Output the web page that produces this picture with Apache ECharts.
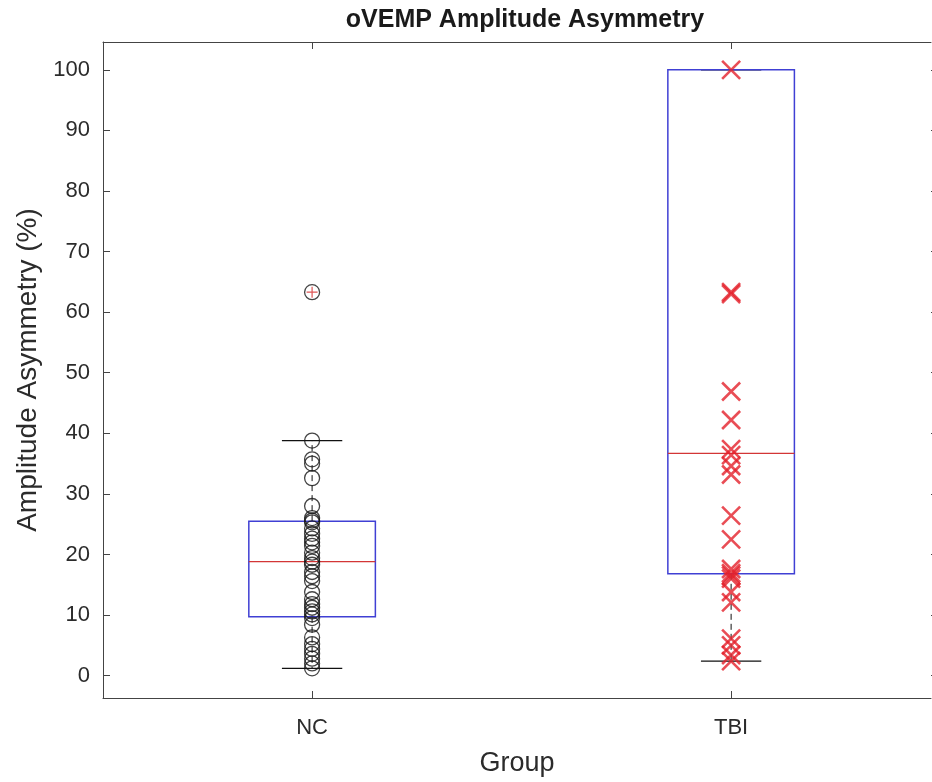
<!DOCTYPE html>
<html>
<head>
<meta charset="utf-8">
<script src="https://cdn.jsdelivr.net/npm/echarts@6/dist/echarts.min.js"></script>
<style>
html,body{margin:0;padding:0;background:#fff;}
#chart{width:932px;height:782px;}
</style>
</head>
<body>
<div id="chart"></div>
<script>
// ---- data ----
const categories = ['NC', 'TBI'];
const categoryPos = [1, 2];
const yTicks = [0, 10, 20, 30, 40, 50, 60, 70, 80, 90, 100];

const ncValues = [38.8, 35.7, 35.0, 32.6, 28.0, 26.0, 25.6, 25.3, 24.3, 23.4, 22.6, 22.0, 21.4,
  20.3, 19.4, 18.8, 18.3, 17.1, 16.4, 15.6, 13.8, 12.6, 11.8, 11.2, 10.6, 10.1, 9.5, 8.4,
  6.3, 5.2, 4.4, 3.6, 2.8, 2.0, 1.2, 63.3];
const tbiValues = [100, 63.3, 63.0, 46.9, 42.2, 37.4, 36.4, 34.6, 33.2, 26.4, 22.5,
  17.6, 16.9, 16.5, 16.0, 13.8, 12.1, 6.1, 5.0, 3.4, 2.4];

const boxQ1 = [9.7, 16.8];
const boxMedian = [18.8, 36.7];
const boxQ3 = [25.5, 100];
const whiskerLow = [1.2, 2.4];
const whiskerHigh = [38.8, 100];
const ncOutliers = [63.3];

// ---- chart ----
const txt = '#2b2b2b';
const axisCol = '#444444';
const font = "'Liberation Sans', Arial, Helvetica, sans-serif";

const boxData = categoryPos.map((p, i) => [p, boxQ1[i], boxMedian[i], boxQ3[i], whiskerLow[i], whiskerHigh[i]]);

const chart = echarts.init(document.getElementById('chart'), null, {renderer: 'canvas'});

const xBase = {
  type: 'value', min: 0.501, max: 2.477,
  splitLine: {show: false},
  axisLine: {show: true, onZero: false, lineStyle: {color: axisCol, width: 1}},
  axisTick: {show: true, inside: true, length: 7, customValues: categoryPos, lineStyle: {color: axisCol}},
};
const yBase = {
  type: 'value', min: -3.7, max: 104.6,
  splitLine: {show: false},
  axisLine: {show: true, onZero: false, lineStyle: {color: axisCol, width: 1}},
  axisTick: {show: true, inside: true, length: 7, customValues: yTicks, lineStyle: {color: axisCol}},
};

const option = {
  animation: false,
  backgroundColor: '#ffffff',
  title: {
    text: 'oVEMP Amplitude Asymmetry',
    left: 520, top: 3, textAlign: 'center',
    textStyle: {fontFamily: font, fontWeight: 'bold', fontSize: 25, color: '#1a1a1a'}
  },
  grid: {left: 103, top: 42, width: 828, height: 658, containLabel: false},
  xAxis: [
    Object.assign({}, xBase, {
      position: 'bottom',
      name: 'Group', nameLocation: 'middle', nameGap: 52,
      nameTextStyle: {fontFamily: font, fontSize: 27, color: txt},
      axisLabel: {show: true, customValues: categoryPos, margin: 19,
        fontFamily: font, fontSize: 22, color: txt,
        formatter: v => categories[categoryPos.indexOf(Math.round(v))] || ''}
    }),
    Object.assign({}, xBase, {position: 'top', axisLabel: {show: false}})
  ],
  yAxis: [
    Object.assign({}, yBase, {
      position: 'left',
      name: 'Amplitude Asymmetry (%)', nameLocation: 'middle', nameGap: 60,
      nameTextStyle: {fontFamily: font, fontSize: 28, color: txt},
      axisLabel: {show: true, customValues: yTicks, margin: 13,
        fontFamily: font, fontSize: 22, color: txt}
    }),
    Object.assign({}, yBase, {position: 'right', offset: 7, axisLabel: {show: false}})
  ],
  series: [
    {
      type: 'custom',
      name: 'box',
      xAxisIndex: 0, yAxisIndex: 0,
      z: 1,
      data: boxData,
      renderItem: function (params, api) {
        const x = api.value(0);
        const q1 = api.value(1), med = api.value(2), q3 = api.value(3), lo = api.value(4), hi = api.value(5);
        const half = api.size([0.302, 0])[0] / 2;
        const capHalf = api.size([0.144, 0])[0] / 2;
        const pQ1 = api.coord([x, q1]);
        const pQ3 = api.coord([x, q3]);
        const pMed = api.coord([x, med]);
        const pLo = api.coord([x, lo]);
        const pHi = api.coord([x, hi]);
        const cx = pQ1[0];
        const children = [];
        children.push({type: 'line', shape: {x1: cx, y1: pQ3[1], x2: cx, y2: pHi[1]},
          style: {stroke: '#111', lineWidth: 1, lineDash: [6, 4]}});
        children.push({type: 'line', shape: {x1: cx, y1: pQ1[1], x2: cx, y2: pLo[1]},
          style: {stroke: '#111', lineWidth: 1, lineDash: [6, 4]}});
        children.push({type: 'line', shape: {x1: cx - capHalf, y1: pHi[1], x2: cx + capHalf, y2: pHi[1]},
          style: {stroke: '#111', lineWidth: 1.2}});
        children.push({type: 'line', shape: {x1: cx - capHalf, y1: pLo[1], x2: cx + capHalf, y2: pLo[1]},
          style: {stroke: '#111', lineWidth: 1.2}});
        children.push({type: 'rect', shape: {x: cx - half, y: pQ3[1], width: half * 2, height: pQ1[1] - pQ3[1]},
          style: {fill: 'none', stroke: '#4040d4', lineWidth: 1.5}});
        children.push({type: 'line', shape: {x1: cx - half, y1: pMed[1], x2: cx + half, y2: pMed[1]},
          style: {stroke: '#d33636', lineWidth: 1.2}});
        return {type: 'group', children: children};
      }
    },
    {
      type: 'scatter',
      name: 'NC',
      xAxisIndex: 0, yAxisIndex: 0,
      z: 3,
      symbol: 'circle',
      symbolSize: 15,
      itemStyle: {color: 'rgba(255,255,255,0)', borderColor: '#151515', borderWidth: 1.3},
      data: ncValues.map(v => [categoryPos[0], v])
    },
    {
      type: 'scatter',
      name: 'NC outliers',
      xAxisIndex: 0, yAxisIndex: 0,
      z: 4,
      symbol: 'path://M5,0L5,10M0,5L10,5',
      symbolSize: 11,
      itemStyle: {color: 'none', borderColor: '#d42a2a', borderWidth: 1.2},
      data: ncOutliers.map(v => [categoryPos[0], v])
    },
    {
      type: 'scatter',
      name: 'TBI',
      xAxisIndex: 0, yAxisIndex: 0,
      z: 3,
      symbol: 'path://M0,0L10,10M0,10L10,0',
      symbolSize: 18,
      itemStyle: {color: 'none', borderColor: '#e3202a', borderWidth: 2.6},
      data: tbiValues.map(v => [categoryPos[1], v])
    }
  ]
};
chart.setOption(option);
</script>
</body>
</html>
